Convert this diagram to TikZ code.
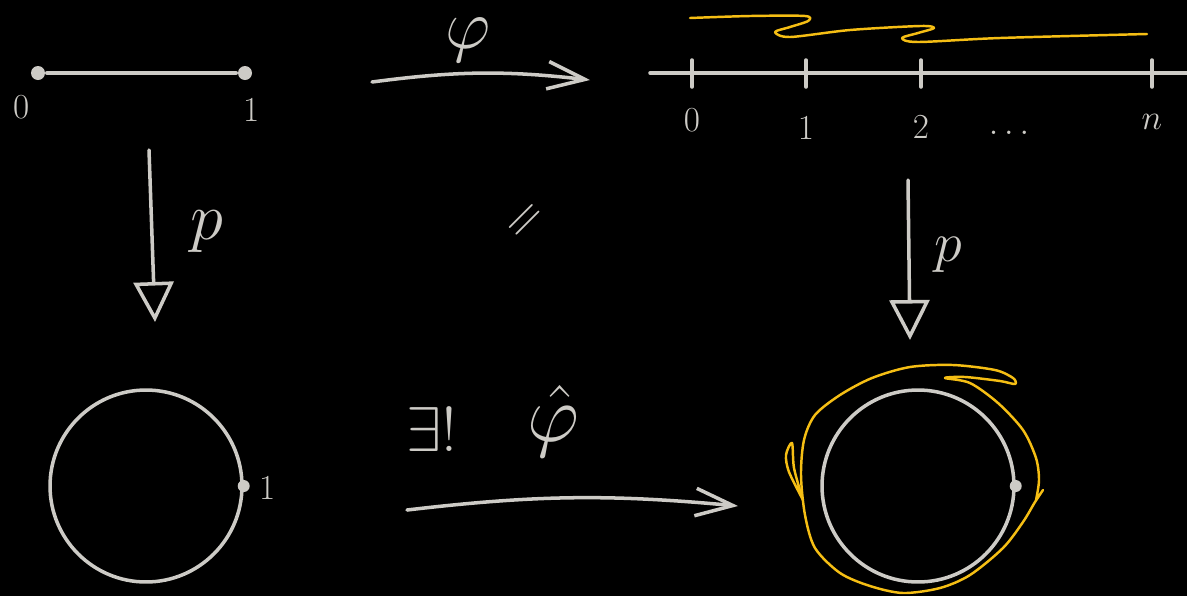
\RequirePackage{fix-cm}
\documentclass[tikz,border=0pt]{standalone}
\usepackage{amsmath}
\usepackage{amssymb}
\usepackage{tikz}
\usetikzlibrary{arrows.meta}

\definecolor{chalkgray}{RGB}{205,203,198}
\definecolor{markeryellow}{RGB}{245,190,20}

\begin{document}
\begin{tikzpicture}[
  x=0.02cm,y=-0.02cm,
  line width=2pt,
  line cap=round,
  stroke/.style={draw=chalkgray},
  marker/.style={draw=markeryellow,line width=1.4pt,line join=round},
  dot/.style={circle,fill=chalkgray,inner sep=0pt,minimum size=0.28cm},
  lbl/.style={text=chalkgray,inner sep=0pt},
  map/.style={stroke,-{Straight Barb[length=0.75cm,width=0.55cm]}},
  proj/.style={stroke,-{Triangle[open,length=0.8cm,width=0.8cm]}}
]
  \fill[black] (0,0) rectangle (1187,596);
  \useasboundingbox (0,0) rectangle (1187,596);

  % Unit interval.
  \node[dot] (a0) at (38,73) {};
  \node[dot] (a1) at (245,73) {};
  \draw[stroke] (a0) -- (a1);
  \node[lbl,font=\fontsize{20}{22}\selectfont] (l0) at (22,107) {0};
  \node[lbl,font=\fontsize{20}{22}\selectfont] (l1) at (252,110) {1};

  % Map phi to the real line.
  \coordinate (phiS) at (372,82);
  \coordinate (phiE) at (590,80);
  \draw[map] (phiS) to[bend left=7] (phiE);
  \node[lbl,font=\fontsize{40}{44}\selectfont] (phi) at (468,40) {$\varphi$};

  % Real line with ticks.
  \coordinate (r0) at (650,73);
  \coordinate (r1) at (1187,73);
  \draw[stroke] (r0) -- (r1);
  \foreach \x/\lab/\ly in {692/0/120, 806/1/128, 921/2/127, 1152/n/122}{
    \draw[stroke] (\x,60) -- (\x,87);
    \node[lbl,font=\fontsize{20}{22}\selectfont] (t\lab) at (\x,\ly) {$\lab$};
  }
  \node[lbl,anchor=base,font=\fontsize{20}{22}\selectfont] (tdots) at (1012,134) {$\dots$};

  % Path lifted along the line.
  \draw[marker] plot[smooth,tension=0.5] coordinates {
    (690,18) (750,16) (805,16) (808,21) (790,27) (775,32) (790,37)
    (850,30) (920,26) (934,28) (918,33) (902,38) (918,42) (1000,38) (1147,34)};

  % Projections p.
  \coordinate (pLs) at (149,150);
  \coordinate (pLe) at (155,322);
  \draw[proj] (pLs) -- (pLe);
  \node[lbl,font=\fontsize{38}{42}\selectfont] (pL) at (207,232) {$p$};
  \coordinate (pRs) at (908,180);
  \coordinate (pRe) at (910,340);
  \draw[proj] (pRs) -- (pRe);
  \node[lbl,font=\fontsize{32}{36}\selectfont] (pR) at (948,255) {$p$};

  % Commutes.
  \node[lbl,rotate=45,font=\fontsize{30}{32}\selectfont] (eq) at (527,222) {$=$};

  % Circles.
  \node[draw=chalkgray,circle,minimum size=3.84cm,inner sep=0pt] (cL) at (146,486) {};
  \node[dot,minimum size=0.24cm] (cL1) at (cL.east) {};
  \node[lbl,font=\fontsize{20}{22}\selectfont] (lc1) at (268,488) {1};
  \node[draw=chalkgray,circle,minimum size=3.84cm,inner sep=0pt] (cR) at (918,486) {};
  \node[dot,minimum size=0.24cm] (cR1) at (cR.east) {};

  % Unique induced map.
  \coordinate (hS) at (407,510);
  \coordinate (hE) at (738,506);
  \draw[map] (hS) to[bend left=6] (hE);
  \node[lbl,font=\fontsize{36}{40}\selectfont] (ex) at (432,430) {$\exists!$};
  \node[lbl,font=\fontsize{46}{50}\selectfont] (phihat) at (553,421) {$\hat{\varphi}$};

  % Loop around the circle.
  \draw[marker] plot[smooth,tension=0.5] coordinates {
    (1043,490) (1035,502) (1023,522) (1003,548) (970,575) (940,588) (903,593)
    (870,586) (840,573) (815,548) (805,515) (801,475) (804,440) (815,415)
    (840,395) (872,378) (910,367) (953,365) (995,370) (1013,378) (1015,384)
    (1000,381) (965,377) (945,378) (970,383) (998,403) (1023,430) (1036,458)
    (1039,480) (1036,500)};
  \draw[marker] plot[smooth,tension=0.5] coordinates {
    (803,500) (789,472) (786,455) (792,443) (794,468) (802,497)};
\end{tikzpicture}
\end{document}
